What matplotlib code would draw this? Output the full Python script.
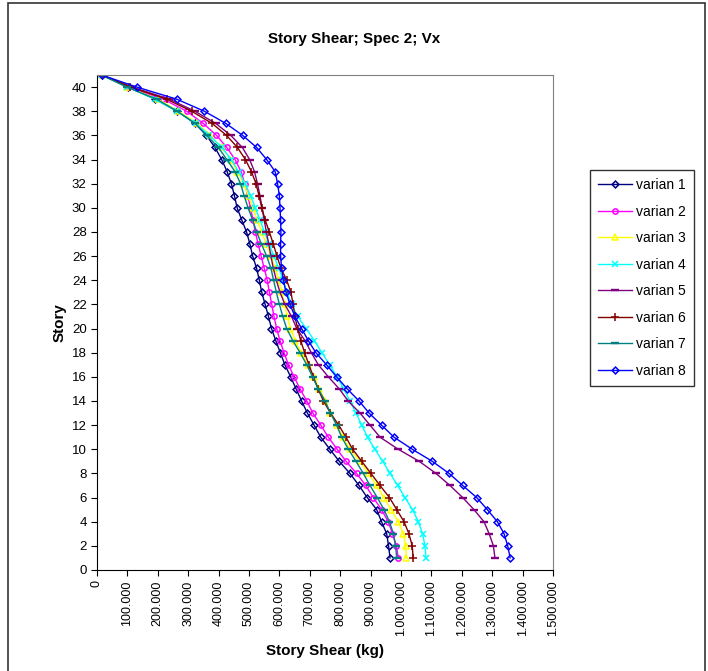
import numpy as np
import matplotlib
matplotlib.use("Agg")
import matplotlib.pyplot as plt
from matplotlib.patches import Rectangle

plt.rcParams['font.family'] = ['Liberation Sans', 'DejaVu Sans']

# story numbers, top floor first
story = list(range(41, 0, -1))

# story shear in thousands of kg, story 41 down to story 1
varian1 = [15, 103, 191, 264, 322, 360, 388, 410, 428, 442, 452, 461, 476, 492, 503, 512, 525, 534, 542, 553, 564,
           574, 588, 603, 618, 637, 655, 673, 692, 714, 736, 766, 797, 832, 862, 889, 920, 936, 953, 959, 964]
varian2 = [15, 103, 218, 295, 349, 393, 427, 454, 474, 486, 496, 505, 513, 521, 530, 540, 550, 560, 567, 575, 582,
           591, 602, 615, 630, 648, 668, 690, 710, 736, 761, 790, 819, 854, 884, 909, 936, 958, 972, 985, 991]
varian3 = [15, 100, 200, 268, 330, 372, 410, 440, 462, 482, 498, 512, 527, 542, 557, 572, 586, 598, 608, 617, 626,
           636, 652, 672, 693, 713, 731, 751, 768, 790, 808, 832, 865, 893, 920, 944, 967, 991, 1008, 1015, 1018]
varian4 = [15, 100, 190, 262, 325, 370, 410, 442, 466, 487, 505, 521, 536, 551, 566, 582, 598, 612, 625, 640, 660,
           688, 715, 740, 765, 790, 812, 832, 852, 871, 890, 914, 940, 964, 989, 1013, 1038, 1057, 1071, 1079, 1082]
varian5 = [15, 115, 238, 322, 390, 440, 478, 502, 518, 528, 536, 543, 550, 557, 565, 572, 580, 590, 602, 618, 640,
           657, 684, 705, 728, 761, 797, 826, 865, 898, 931, 991, 1060, 1115, 1161, 1203, 1240, 1273, 1290, 1304, 1309]
varian6 = [15, 110, 229, 311, 378, 426, 462, 488, 508, 523, 533, 542, 553, 567, 580, 592, 605, 624, 638, 645, 651,
           660, 670, 683, 697, 712, 727, 745, 768, 795, 819, 841, 871, 901, 931, 962, 986, 1010, 1026, 1037, 1040]
varian7 = [15, 98, 196, 264, 322, 361, 399, 427, 454, 472, 484, 497, 512, 525, 541, 558, 572, 581, 590, 600, 611,
           624, 644, 668, 690, 709, 728, 750, 768, 788, 805, 827, 852, 876, 898, 922, 944, 962, 975, 982, 986]
varian8 = [15, 131, 262, 353, 423, 479, 525, 558, 586, 594, 600, 602, 604, 605, 604, 604, 607, 613, 622, 635, 651,
           673, 695, 720, 755, 788, 823, 862, 895, 936, 977, 1037, 1103, 1158, 1203, 1249, 1284, 1317, 1339, 1351, 1359]

series = [varian1, varian2, varian3, varian4, varian5, varian6, varian7, varian8]
names = ['varian 1', 'varian 2', 'varian 3', 'varian 4', 'varian 5', 'varian 6', 'varian 7', 'varian 8']
colors = ['#000080', '#FF00FF', '#FFFF00', '#00FFFF', '#800080', '#800000', '#008080', '#0000FF']
markers = ['D', 'o', '^', 'x', '_', '+', '_', 'D']
msizes = {'D': 3.5, 'o': 3.8, '^': 4.2, 'x': 4.5, '_': 6, '+': 6}

fig = plt.figure(figsize=(7.08, 6.71), dpi=100)
ax = fig.add_axes([97 / 708, 1 - 570 / 671, 456 / 708, 495 / 671])

for vals, name, c, m in zip(series, names, colors, markers):
    x = np.array(vals) * 1000
    hollow = m in ('D', 'o', '^')
    ax.plot(x, story, color=c, lw=1, marker=m, ms=msizes[m],
            mfc='none' if hollow else c, mec=c, mew=1.7 if m == '_' else 1.1,
            label=name)

ax.set_xlim(0, 1500000)
ax.set_ylim(0, 41)
ax.set_xticks(np.arange(0, 1500001, 100000))
ax.set_xticklabels(['0'] + ['{:,}'.format(v).replace(',', '.') for v in range(100000, 1500001, 100000)],
                   rotation=90, fontsize=9)
ax.set_yticks(np.arange(0, 41, 2))
ax.tick_params(axis='y', labelsize=9.5, length=4, direction='out')
ax.tick_params(axis='x', length=4, direction='out')

for s in ['top', 'right']:
    ax.spines[s].set_color('#808080')
for s in ['left', 'bottom']:
    ax.spines[s].set_color('black')

ax.set_xlabel('Story Shear (kg)', fontsize=11, fontweight='bold', labelpad=6)
ax.set_ylabel('Story', fontsize=11, fontweight='bold', labelpad=4)
fig.text(0.5, 1 - 39 / 671, 'Story Shear; Spec 2; Vx', ha='center', va='center', fontsize=11, fontweight='bold')

leg = ax.legend(loc='upper left', bbox_to_anchor=(590 / 708, 1 - 170 / 671), bbox_transform=fig.transFigure,
                fontsize=10, frameon=True, fancybox=False, handlelength=2.4, labelspacing=0.9,
                borderpad=0.6, handletextpad=0.3, borderaxespad=0)
leg.get_frame().set_edgecolor('black')
leg.get_frame().set_linewidth(1)

fig.patches.append(Rectangle((8 / 708, -0.01), 697 / 708, 1.01 - 3 / 671, transform=fig.transFigure,
                             fill=False, edgecolor='#333333', lw=1.2))

fig.savefig('out.png', dpi=100)
